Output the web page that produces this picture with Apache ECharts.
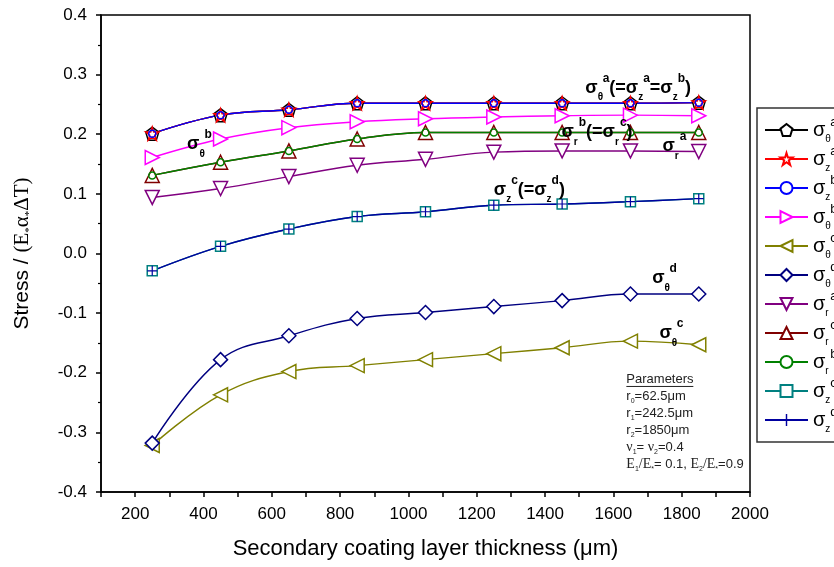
<!DOCTYPE html>
<html lang="en">
    <head>
        <meta charset="UTF-8" />
        <title>Stress vs secondary coating thickness</title>
        <script src="https://cdn.jsdelivr.net/npm/echarts@6/dist/echarts.min.js"></script>
        <style>
            body,
            html {
                margin: 0;
                padding: 0;
                width: 100%;
                height: 100%;
                overflow: hidden;
                background-color: #fff;
            }
            #main {
                width: 834px;
                height: 567px;
            }
        </style>
    </head>
    <body>
        <div id="main"></div>
        <script>
            // thickness of the secondary coating (um)
            const thickness = [250, 450, 650, 850, 1050, 1250, 1450, 1650, 1850]

            const sigmaThetaA = [0.201, 0.232, 0.241, 0.252, 0.252, 0.252, 0.252, 0.252, 0.253]
            const sigmaZA = [0.201, 0.232, 0.241, 0.252, 0.252, 0.252, 0.252, 0.252, 0.253]
            const sigmaZB = [0.201, 0.232, 0.241, 0.252, 0.252, 0.252, 0.252, 0.252, 0.253]
            const sigmaThetaB = [0.161, 0.192, 0.211, 0.221, 0.226, 0.229, 0.231, 0.232, 0.231]
            const sigmaThetaC = [-0.322, -0.237, -0.198, -0.188, -0.178, -0.168, -0.158, -0.147, -0.153]
            const sigmaThetaD = [-0.318, -0.178, -0.138, -0.109, -0.099, -0.089, -0.079, -0.068, -0.068]
            const sigmaRA = [0.094, 0.109, 0.129, 0.148, 0.158, 0.17, 0.172, 0.172, 0.171]
            const sigmaRC = [0.131, 0.153, 0.172, 0.192, 0.203, 0.203, 0.203, 0.203, 0.203]
            const sigmaRB = [0.131, 0.153, 0.172, 0.192, 0.203, 0.203, 0.203, 0.203, 0.203]
            const sigmaZC = [-0.029, 0.012, 0.041, 0.062, 0.07, 0.081, 0.083, 0.087, 0.092]
            const sigmaZD = [-0.029, 0.012, 0.041, 0.062, 0.07, 0.081, 0.083, 0.087, 0.092]

            const xTicks = [200, 400, 600, 800, 1000, 1200, 1400, 1600, 1800, 2000]
            const yTicks = [-0.4, -0.3, -0.2, -0.1, 0.0, 0.1, 0.2, 0.3, 0.4]

            const PENTAGON = "path://M0,-10L9.51,-3.09L5.88,8.09L-5.88,8.09L-9.51,-3.09Z"
            const STAR =
                "path://M0,-10L2.245,-3.09L9.51,-3.09L3.633,1.18L5.878,8.09L0,3.82L-5.878,8.09L-3.633,1.18L-9.51,-3.09L-2.245,-3.09Z"
            const PLUS =
                "path://M-0.6,-5L0.6,-5L0.6,-0.6L5,-0.6L5,0.6L0.6,0.6L0.6,5L-0.6,5L-0.6,0.6L-5,0.6L-5,-0.6L-0.6,-0.6Z"

            // name, legend label, data, colour, symbol, size, rotate
            const curves = [
                ["θa", "{s|σ}{sb|θ}{sp|a}", sigmaThetaA, "#000000", PENTAGON, 13, 0],
                ["za", "{s|σ}{sb|z}{sp|a}", sigmaZA, "#ff0000", STAR, 13, 0],
                ["zb", "{s|σ}{sb|z}{sp|b}", sigmaZB, "#0000ff", "circle", 7, 0],
                ["θb", "{s|σ}{sb|θ}{sp|b}", sigmaThetaB, "#ff00ff", "triangle", 14, -90],
                ["θc", "{s|σ}{sb|θ}{sp|c}", sigmaThetaC, "#808000", "triangle", 14, 90],
                ["θd", "{s|σ}{sb|θ}{sp|d}", sigmaThetaD, "#000080", "diamond", 14, 0],
                ["ra", "{s|σ}{sb|r}{sp|a}", sigmaRA, "#800080", "triangle", 14, 180],
                ["rc", "{s|σ}{sb|r}{sp|c}", sigmaRC, "#800000", "triangle", 14, 0],
                ["rb", "{s|σ}{sb|r}{sp|b}", sigmaRB, "#008000", "circle", 7, 0],
                ["zc", "{s|σ}{sb|z}{sp|c}", sigmaZC, "#008080", "rect", 10, 0],
                ["zd", "{s|σ}{sb|z}{sp|d}", sigmaZD, "#0000a0", PLUS, 10, 0],
            ]
            const legendLabels = {}
            curves.forEach((c) => (legendLabels[c[0]] = c[1]))

            const lineSeries = curves.map((c) => ({
                name: c[0],
                type: "line",
                data: thickness.map((x, i) => [x, c[2][i]]),
                smooth: 0.4,
                showSymbol: false,
                symbol: c[4],
                symbolSize: c[5],
                symbolRotate: c[6],
                lineStyle: { color: c[3], width: 1.4 },
                itemStyle: {
                    color: c[4] === PLUS ? c[3] : "#fff",
                    borderColor: c[3],
                    borderWidth: c[4] === PLUS ? 0 : 1.4,
                },
                z: 2,
            }))
            // markers are drawn after all the lines, as Origin does
            const markerSeries = curves.map((c) => ({
                name: c[0],
                type: "scatter",
                data: thickness.map((x, i) => [x, c[2][i]]),
                symbol: c[4],
                symbolSize: c[5],
                symbolRotate: c[6],
                itemStyle: {
                    color: c[4] === PLUS ? c[3] : c[4] === STAR || c[4] === "circle" ? "rgba(255,255,255,0)" : "#fff",
                    borderColor: c[3],
                    borderWidth: c[4] === PLUS ? 0 : 1.5,
                    opacity: 1,
                },
                silent: true,
                z: 3,
            }))

            const sans = "'Liberation Sans', Arial, sans-serif"
            const serif = "'Liberation Serif', 'Times New Roman', serif"

            const chart = echarts.init(document.getElementById("main"))
            const option = {
                animation: false,
                backgroundColor: "#fff",
                grid: {
                    left: 101,
                    right: 84,
                    top: 15,
                    bottom: 75,
                    outerBoundsMode: "none",
                    containLabel: false,
                    show: true,
                    borderColor: "#000",
                    borderWidth: 1.5,
                },
                xAxis: {
                    type: "value",
                    min: 100,
                    max: 2000,
                    interval: 100,
                    name: "Secondary coating layer thickness (μm)",
                    nameLocation: "middle",
                    nameGap: 46,
                    nameTextStyle: { fontFamily: sans, fontSize: 22, color: "#000" },
                    axisLine: { onZero: false, lineStyle: { color: "#000", width: 1.5 } },
                    axisTick: { length: 5, lineStyle: { color: "#000", width: 1.5 } },
                    axisLabel: {
                        fontFamily: sans,
                        fontSize: 17,
                        color: "#000",
                        margin: 14,
                        formatter: (v) => (xTicks.includes(v) ? String(v) : ""),
                    },
                    splitLine: { show: false },
                },
                yAxis: {
                    type: "value",
                    min: yTicks[0],
                    max: yTicks[yTicks.length - 1],
                    interval: 0.1,
                    name: "{a|Stress / }{b|(E}{sb|*}{b|α}{sb|*}{b|ΔT)}",
                    nameLocation: "middle",
                    nameGap: 66,
                    nameTextStyle: {
                        color: "#000",
                        rich: {
                            a: { fontFamily: sans, fontSize: 21, lineHeight: 26, color: "#000" },
                            b: { fontFamily: serif, fontSize: 21, lineHeight: 26, color: "#000" },
                            sb: { fontFamily: serif, fontSize: 11, lineHeight: 10, verticalAlign: "bottom", color: "#000" },
                        },
                    },
                    axisLine: { onZero: false, lineStyle: { color: "#000", width: 1.5 } },
                    axisTick: { length: 5, lineStyle: { color: "#000", width: 1.5 } },
                    minorTick: { show: true, splitNumber: 2, length: 3, lineStyle: { color: "#000", width: 1.2 } },
                    axisLabel: {
                        fontFamily: sans,
                        fontSize: 17,
                        color: "#000",
                        margin: 14,
                        formatter: (v) => v.toFixed(1),
                    },
                    splitLine: { show: false },
                },
                legend: {
                    orient: "vertical",
                    left: 757,
                    top: 108,
                    data: curves.map((c) => c[0]),
                    formatter: (name) => legendLabels[name],
                    itemWidth: 43,
                    itemHeight: 15,
                    itemGap: 1,
                    padding: [8, 30, 8, 7],
                    backgroundColor: "#fff",
                    borderColor: "#333",
                    borderWidth: 1.5,
                    borderRadius: 0,
                    textStyle: {
                        rich: {
                            s: { fontFamily: sans, fontSize: 20, lineHeight: 28, color: "#000" },
                            sb: { fontFamily: sans, fontSize: 10, lineHeight: 10, verticalAlign: "bottom", width: 5, color: "#000" },
                            sp: { fontFamily: sans, fontSize: 13, lineHeight: 12, verticalAlign: "top", color: "#000" },
                        },
                    },
                },
                series: lineSeries.concat(markerSeries),
            }
            chart.setOption(option)

            // curve labels, anchored in data coordinates (left edge of the sigma)
            const annotations = [
                ["{s|σ}{sb|θ}{sp|a}{s|(=σ}{sb|z}{sp|a}{s|=σ}{sb|z}{sp|b}{s|)}", 1518, 0.278],
                ["{s|σ}{sb|θ}{sp|b}", 352, 0.184],
                ["{s|σ}{sb|r}{sp|b}{s|(=σ}{sb|r}{sp|c}{s|)}", 1448, 0.204],
                ["{s|σ}{sb|r}{sp|a}", 1744, 0.18],
                ["{s|σ}{sb|z}{sp|c}{s|(=σ}{sb|z}{sp|d}{s|)}", 1250, 0.107],
                ["{s|σ}{sb|θ}{sp|d}", 1714, -0.041],
                ["{s|σ}{sb|θ}{sp|c}", 1735, -0.133],
            ]
            const annRich = {
                s: { fontFamily: sans, fontSize: 18, fontWeight: "bold", lineHeight: 30, fill: "#000" },
                sb: { fontFamily: sans, fontSize: 10, fontWeight: "bold", lineHeight: 12, verticalAlign: "bottom", width: 5, fill: "#000" },
                sp: { fontFamily: sans, fontSize: 12, fontWeight: "bold", lineHeight: 12, verticalAlign: "top", fill: "#000" },
            }

            const paramLines = [
                "{u|Parameters}",
                "{t|r}{sb|0}{t|=62.5μm}",
                "{t|r}{sb|1}{t|=242.5μm}",
                "{t|r}{sb|2}{t|=1850μm}",
                "{f|ν}{sb|1}{t|= }{f|ν}{sb|2}{t|=0.4}",
                "{f|E}{sb|1}{f|/E}{sb|*}{t|= 0.1, }{f|E}{sb|2}{f|/E}{sb|*}{t|=0.9}",
            ]
            const paramAnchor = [1638, -0.197]
            const paramRich = {
                u: { fontFamily: sans, fontSize: 13, lineHeight: 17, fill: "#222" },
                t: { fontFamily: sans, fontSize: 13, lineHeight: 17, fill: "#222" },
                f: { fontFamily: serif, fontSize: 14, lineHeight: 17, fill: "#222" },
                sb: { fontFamily: sans, fontSize: 7, lineHeight: 8, verticalAlign: "bottom", fill: "#222" },
            }

            const graphics = annotations.map((a) => {
                const p = chart.convertToPixel({ gridIndex: 0 }, [a[1], a[2]])
                return {
                    type: "text",
                    x: p[0],
                    y: p[1],
                    style: { text: a[0], rich: annRich, align: "left", verticalAlign: "middle" },
                    z: 10,
                }
            })
            const pp = chart.convertToPixel({ gridIndex: 0 }, paramAnchor)
            graphics.push({
                type: "group",
                x: pp[0],
                y: pp[1],
                z: 10,
                children: [
                    {
                        type: "text",
                        x: 0,
                        y: 0,
                        style: { text: paramLines.join("\n"), rich: paramRich, align: "left", verticalAlign: "top" },
                    },
                    {
                        type: "line",
                        shape: { x1: 0, y1: 15.5, x2: 67, y2: 15.5 },
                        style: { stroke: "#222", lineWidth: 1 },
                    },
                ],
            })
            chart.setOption({ graphic: graphics })
        </script>
    </body>
</html>
